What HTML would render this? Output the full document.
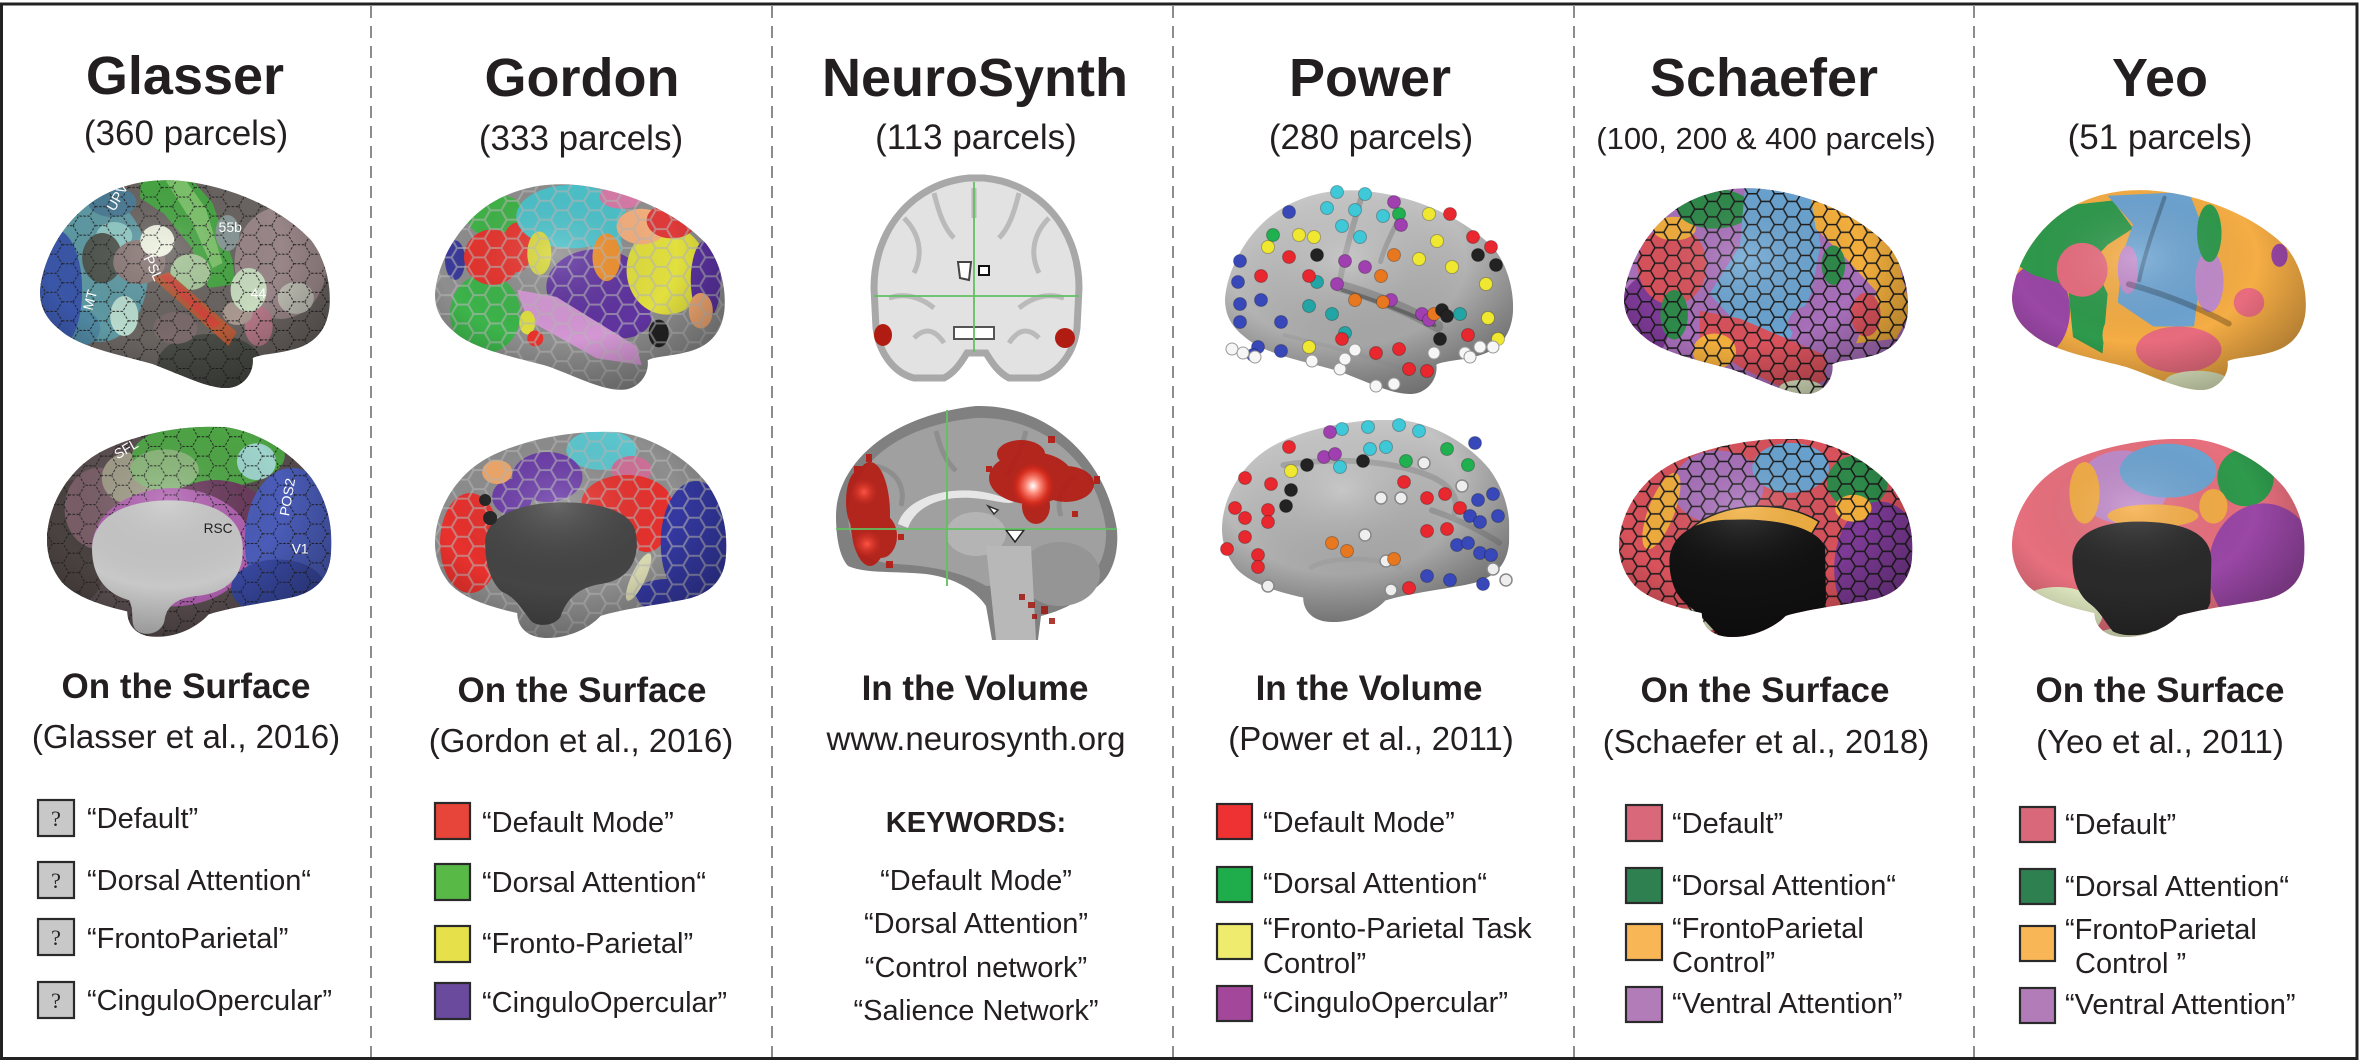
<!DOCTYPE html>
<html><head><meta charset="utf-8">
<style>
html,body{margin:0;padding:0;background:#fff;}
svg{display:block;}
text{font-family:"Liberation Sans",Arial,sans-serif;fill:#231f20;}
.t{font-size:54px;font-weight:bold;text-anchor:middle;}
.s{font-size:35px;text-anchor:middle;}
.h{font-size:35px;font-weight:bold;text-anchor:middle;}
.c{font-size:33px;text-anchor:middle;}
.l{font-size:29px;}
.lc{font-size:29px;text-anchor:middle;}
.q{font-family:"Liberation Serif",serif;font-size:22px;text-anchor:middle;}
.w{fill:#fff;font-size:14px;}
</style></head>
<body>
<svg width="2364" height="1064" viewBox="0 0 2364 1064" xmlns="http://www.w3.org/2000/svg">
<defs>
  <path id="LAT" d="M0,113 C2,85 20,45 55,22 C80,6 110,0 141,3 C190,8 240,30 270,62 C288,85 292,120 287,138 C282,158 268,168 250,172 C235,176 220,176 212,180 C214,195 202,210 186,210 C165,210 140,196 112,186 C85,178 40,170 20,152 C5,140 0,128 0,113 Z"/>
  <path id="MED" d="M0,111 C0,80 20,40 60,22 C95,6 140,-2 181,0 C215,4 250,25 270,50 C288,75 292,100 290,125 C288,148 275,160 255,166 C230,172 190,176 165,184 C155,195 135,206 112,206 C92,206 82,195 82,181 C60,176 30,168 15,152 C5,140 0,126 0,111 Z"/>
  <path id="WALL" d="M50,111 C50,90 70,75 112,71 C150,68 195,75 200,100 C205,125 195,148 165,152 C140,156 130,170 125,185 C118,195 100,195 95,188 C85,175 80,165 67,160 C55,150 50,130 50,111 Z"/>
  <clipPath id="clipLat"><use href="#LAT"/></clipPath>
  <clipPath id="clipMed"><use href="#MED"/></clipPath>
  <pattern id="hexS" width="27" height="15.59" patternUnits="userSpaceOnUse">
    <path d="M0,7.79 L4.5,0 L13.5,0 L18,7.79 L13.5,15.59 L4.5,15.59 Z M18,7.79 L27,7.79" fill="none" stroke="#1a1a1a" stroke-width="1.5"/>
  </pattern>
  <pattern id="hexG" width="33" height="19.05" patternUnits="userSpaceOnUse">
    <path d="M0,9.53 L5.5,0 L16.5,0 L22,9.53 L16.5,19.05 L5.5,19.05 Z M22,9.53 L33,9.53" fill="none" stroke="#1e1e1e" stroke-width="0.9" stroke-dasharray="2.5 1.5"/>
  </pattern>
  <pattern id="hexW" width="33" height="19.05" patternUnits="userSpaceOnUse">
    <path d="M0,9.53 L5.5,0 L16.5,0 L22,9.53 L16.5,19.05 L5.5,19.05 Z M22,9.53 L33,9.53" fill="none" stroke="#b8b8b8" stroke-width="2" opacity="0.6"/>
  </pattern>
  <radialGradient id="shade" cx="0.42" cy="0.35" r="0.75">
    <stop offset="0" stop-color="#fff" stop-opacity="0.18"/>
    <stop offset="0.55" stop-color="#000" stop-opacity="0"/>
    <stop offset="1" stop-color="#000" stop-opacity="0.35"/>
  </radialGradient>
  <linearGradient id="pgray" x1="0" y1="0" x2="0.3" y2="1">
    <stop offset="0" stop-color="#d2d2d2"/>
    <stop offset="1" stop-color="#9c9c9c"/>
  </linearGradient>
  <radialGradient id="hot" cx="0.5" cy="0.5" r="0.5">
    <stop offset="0" stop-color="#ffffff"/>
    <stop offset="0.3" stop-color="#ff9080"/>
    <stop offset="0.7" stop-color="#e0301f" stop-opacity="0.8"/>
    <stop offset="1" stop-color="#c02015" stop-opacity="0"/>
  </radialGradient>
  <radialGradient id="hot2" cx="0.5" cy="0.5" r="0.5">
    <stop offset="0" stop-color="#ff5545"/>
    <stop offset="1" stop-color="#d02a1c" stop-opacity="0"/>
  </radialGradient>
</defs>

<!-- frame -->
<rect x="1.5" y="4" width="2355.5" height="1054.5" fill="#fff" stroke="#222" stroke-width="3"/>
<g stroke="#808080" stroke-width="1.8" stroke-dasharray="12 8">
  <line x1="371" y1="6" x2="371" y2="1057"/>
  <line x1="772" y1="6" x2="772" y2="1057"/>
  <line x1="1173" y1="6" x2="1173" y2="1057"/>
  <line x1="1574" y1="6" x2="1574" y2="1057"/>
  <line x1="1974" y1="6" x2="1974" y2="1057"/>
</g>

<!-- Titles -->
<text class="t" x="185" y="94">Glasser</text>
<text class="t" x="582" y="96">Gordon</text>
<text class="t" x="975" y="96">NeuroSynth</text>
<text class="t" x="1370" y="96">Power</text>
<text class="t" x="1764" y="96">Schaefer</text>
<text class="t" x="2160" y="96">Yeo</text>

<text class="s" x="186" y="145">(360 parcels)</text>
<text class="s" x="581" y="150">(333 parcels)</text>
<text class="s" x="976" y="149">(113 parcels)</text>
<text class="s" x="1371" y="149">(280 parcels)</text>
<text class="s" x="1766" y="149" style="font-size:31px">(100, 200 &amp; 400 parcels)</text>
<text class="s" x="2160" y="149">(51 parcels)</text>

<!-- ========== GLASSER lateral ========== -->
<g transform="translate(40,178) scale(1.003,1)">
  <g clip-path="url(#clipLat)">
    <rect width="290" height="210" fill="#6a6461"/>
    <ellipse cx="60" cy="92" rx="48" ry="72" fill="#5e9aa4"/>
    <ellipse cx="72" cy="24" rx="24" ry="15" fill="#4b7c96"/>
    <ellipse cx="74" cy="58" rx="18" ry="14" fill="#8fcac6"/>
    <ellipse cx="84" cy="138" rx="14" ry="20" fill="#b9dccf"/>
    <ellipse cx="40" cy="150" rx="20" ry="18" fill="#4f86a0"/>
    <ellipse cx="16" cy="112" rx="26" ry="60" fill="#3a56a8"/>
    <ellipse cx="62" cy="80" rx="20" ry="25" fill="#4e544e"/>
    <ellipse cx="99" cy="84" rx="26" ry="22" fill="#8a7876"/>
    <ellipse cx="240" cy="85" rx="46" ry="56" fill="#998688"/>
    <ellipse cx="255" cy="120" rx="18" ry="16" fill="#bdbcb2"/>
    <ellipse cx="218" cy="148" rx="14" ry="20" fill="#b57888"/>
    <ellipse cx="197" cy="135" rx="15" ry="12" fill="#a89890"/>
    <ellipse cx="169" cy="186" rx="52" ry="30" fill="#4a4c46"/>
    <ellipse cx="135" cy="150" rx="22" ry="16" fill="#7a6a6c"/>
    <polygon points="100,0 150,0 172,25 192,82 195,106 168,110 150,68 124,36 100,20" fill="#46a642"/>
    <polygon points="125,2 145,2 165,30 182,85 172,90 152,45" fill="#7cc46a"/>
    <ellipse cx="117" cy="63" rx="17" ry="16" fill="#eef2e0"/>
    <ellipse cx="150" cy="94" rx="20" ry="18" fill="#a8c89a"/>
    <ellipse cx="208" cy="112" rx="18" ry="22" fill="#c8dcc0"/>
    <ellipse cx="187" cy="55" rx="12" ry="18" fill="#8a9898"/>
    <polygon points="112,100 128,94 196,154 188,168" fill="#b55a38"/>
    <polygon points="120,98 128,96 180,146 172,150" fill="#d0463a"/>
    <rect width="290" height="210" fill="url(#hexG)"/>
    <rect width="290" height="210" fill="url(#shade)"/>
  </g>
  <text class="w" transform="translate(74,34) rotate(-60)">UPV</text>
  <text class="w" x="178" y="54">55b</text>
  <text class="w" transform="translate(103,80) rotate(65)">PSL</text>
  <text class="w" x="210" y="120">44</text>
  <text class="w" transform="translate(52,133) rotate(-75)">MT</text>
</g>

<!-- ========== GLASSER medial ========== -->
<g transform="translate(47,427) scale(0.979,1.019)">
  <g clip-path="url(#clipMed)">
    <rect width="290" height="206" fill="#5a4e50"/>
    <ellipse cx="28" cy="114" rx="36" ry="62" fill="#4a4240"/>
    <ellipse cx="53" cy="80" rx="35" ry="40" fill="#7a5e68"/>
    <ellipse cx="84" cy="50" rx="28" ry="25" fill="#a09c88"/>
    <ellipse cx="165" cy="28" rx="78" ry="32" fill="#4ea645"/>
    <ellipse cx="120" cy="42" rx="35" ry="20" fill="#8ab87a"/>
    <ellipse cx="214" cy="34" rx="20" ry="18" fill="#9ed4cc"/>
    <ellipse cx="172" cy="82" rx="50" ry="30" fill="#6a3a5c"/>
    <ellipse cx="128" cy="118" rx="82" ry="58" fill="#b060b0"/>
    <ellipse cx="250" cy="112" rx="48" ry="72" fill="#4a5cb8"/>
    <ellipse cx="236" cy="158" rx="48" ry="28" fill="#3848a0"/>
    <rect width="290" height="206" fill="url(#hexG)"/>
    <path d="M46,120 C46,88 80,72 125,72 C170,72 200,88 200,120 C200,148 184,163 152,166 C132,168 122,176 120,190 C117,203 100,206 92,200 C84,194 90,182 84,170 C60,164 46,146 46,120 Z" fill="#c8c8c8"/>
    <rect width="290" height="206" fill="url(#shade)"/>
  </g>
  <text x="160" y="104" style="font-size:14px">RSC</text>
  <text class="w" x="250" y="124">V1</text>
  <text class="w" transform="translate(247,88) rotate(-80)">POS2</text>
  <text class="w" transform="translate(72,32) rotate(-30)">SFL</text>
</g>

<!-- ========== GORDON lateral ========== -->
<g transform="translate(435,182) scale(1.003,0.99)">
  <g clip-path="url(#clipLat)">
    <rect width="290" height="210" fill="#8e8e8e"/>
    <ellipse cx="20" cy="79" rx="10" ry="20" fill="#3a3a9a"/>
    <ellipse cx="62" cy="35" rx="30" ry="22" fill="#3fb447"/>
    <ellipse cx="50" cy="133" rx="35" ry="40" fill="#3cb44a"/>
    <ellipse cx="57" cy="76" rx="28" ry="28" fill="#e8322c"/>
    <ellipse cx="82" cy="66" rx="15" ry="25" fill="#e8322c"/>
    <ellipse cx="136" cy="35" rx="55" ry="32" fill="#4bc3cb"/>
    <ellipse cx="171" cy="62" rx="15" ry="20" fill="#4bc3cb"/>
    <ellipse cx="186" cy="15" rx="22" ry="12" fill="#d87aa8"/>
    <ellipse cx="161" cy="106" rx="50" ry="38" fill="#6034a0"/>
    <ellipse cx="186" cy="136" rx="30" ry="22" fill="#6034a0"/>
    <ellipse cx="104" cy="72" rx="12" ry="22" fill="#d8d838"/>
    <ellipse cx="171" cy="76" rx="14" ry="24" fill="#f0902c"/>
    <polygon points="82,109 121,116 201,166 206,185 161,178 92,139" fill="#d497d4"/>
    <ellipse cx="231" cy="89" rx="40" ry="45" fill="#e2e03e"/>
    <ellipse cx="206" cy="45" rx="25" ry="18" fill="#f5b07e"/>
    <ellipse cx="236" cy="39" rx="25" ry="18" fill="#e03a3a"/>
    <ellipse cx="270" cy="99" rx="15" ry="40" fill="#5a32a0"/>
    <ellipse cx="265" cy="130" rx="12" ry="18" fill="#f2a870"/>
    <ellipse cx="223" cy="153" rx="10" ry="14" fill="#222"/>
    <ellipse cx="92" cy="142" rx="8" ry="12" fill="#e0e040"/>
    <ellipse cx="100" cy="158" rx="8" ry="8" fill="#e8322c"/>
    <rect width="290" height="210" fill="url(#hexW)"/>
    <rect width="290" height="210" fill="url(#shade)"/>
  </g>
</g>

<!-- ========== GORDON medial ========== -->
<g transform="translate(435,432) scale(1.003,1)">
  <g clip-path="url(#clipMed)">
    <rect width="290" height="206" fill="#8e8e8e"/>
    <ellipse cx="166" cy="18" rx="35" ry="20" fill="#5cc8d0"/>
    <ellipse cx="196" cy="38" rx="20" ry="14" fill="#d07098"/>
    <ellipse cx="112" cy="45" rx="35" ry="25" fill="#6a3aa8"/>
    <ellipse cx="77" cy="65" rx="20" ry="18" fill="#6a3aa8"/>
    <ellipse cx="62" cy="40" rx="15" ry="12" fill="#f2a868"/>
    <ellipse cx="35" cy="111" rx="30" ry="50" fill="#e8312d"/>
    <ellipse cx="191" cy="71" rx="45" ry="28" fill="#e8312d"/>
    <ellipse cx="211" cy="95" rx="20" ry="25" fill="#e8312d"/>
    <ellipse cx="260" cy="111" rx="35" ry="62" fill="#3438a0"/>
    <ellipse cx="231" cy="163" rx="32" ry="16" fill="#3438a0"/>
    <ellipse cx="203" cy="145" rx="7" ry="26" fill="#d8d8b0" transform="rotate(25 203 145)"/>
    <rect width="290" height="206" fill="url(#hexW)"/>
    <use href="#WALL" fill="#454545"/>
    <circle cx="50" cy="68" r="6" fill="#222"/>
    <circle cx="55" cy="86" r="7" fill="#222"/>
    <rect width="290" height="206" fill="url(#shade)"/>
  </g>
</g>

<!-- ========== NEUROSYNTH coronal ========== -->
<g transform="translate(874,178)">
  <path d="M0,110 C0,50 40,5 95,0 L110,0 C165,5 205,50 205,110 L203,150 C200,175 185,195 165,200 L135,200 C125,195 118,185 112,175 L93,175 C87,185 80,195 70,200 L40,200 C20,195 5,175 2,150 Z" fill="#e2e2e2" stroke="#a8a8a8" stroke-width="7"/>
  <g fill="none" stroke="#b4b4b4" stroke-width="5" opacity="0.85">
    <path d="M30,40 C45,55 50,75 40,95"/>
    <path d="M60,15 C65,35 70,50 80,60"/>
    <path d="M175,40 C160,55 155,75 165,95"/>
    <path d="M145,15 C140,35 135,50 125,60"/>
    <path d="M15,120 C30,115 45,118 60,130"/>
    <path d="M190,120 C175,115 160,118 145,130"/>
    <path d="M40,160 C50,150 60,150 70,165"/>
    <path d="M165,160 C155,150 145,150 135,165"/>
    <path d="M100,10 L100,40"/>
  </g>
  <path d="M84,84 L97,84 L95,102 L86,100 Z" fill="#fff" stroke="#444" stroke-width="2"/>
  <rect x="105" y="88" width="10" height="9" fill="#fff" stroke="#111" stroke-width="2"/>
  <path d="M80,149 L120,149 L120,161 L80,161 Z" fill="#fff" stroke="#555" stroke-width="2"/>
  <line x1="100" y1="4" x2="100" y2="174" stroke="#62c062" stroke-width="1.8"/>
  <line x1="0" y1="118" x2="205" y2="118" stroke="#62c062" stroke-width="1.8"/>
  <ellipse cx="9" cy="157" rx="9" ry="11" fill="#b01c12"/>
  <ellipse cx="191" cy="160" rx="10" ry="10" fill="#b01c12"/>
</g>

<!-- ========== NEUROSYNTH sagittal ========== -->
<g transform="translate(836,406)">
  <path d="M0,110 C0,60 50,10 140,0 C210,-2 270,50 281,124 C283,150 275,170 262,180 C245,195 225,205 205,210 L202,234 L156,234 L150,200 C140,185 120,172 90,168 C60,165 30,168 12,160 C3,150 0,130 0,110 Z" fill="#808080"/>
  <path d="M12,110 C12,65 55,20 140,12 C205,10 262,55 270,124 C271,148 262,165 250,175 L150,180 C130,168 100,160 60,158 C30,156 14,145 12,110 Z" fill="#a0a0a0"/>
  <g fill="none" stroke="#8a8a8a" stroke-width="5" opacity="0.8">
    <path d="M40,60 C60,65 70,80 65,100"/>
    <path d="M100,25 C105,45 110,55 120,65"/>
    <path d="M190,25 C185,45 180,55 170,70"/>
    <path d="M240,70 C225,80 220,95 225,110"/>
  </g>
  <path d="M62,118 C70,88 130,72 178,96 C170,100 150,90 120,92 C95,94 78,105 72,122 Z" fill="#e6e6e6"/>
  <ellipse cx="140" cy="128" rx="30" ry="22" fill="#b4b4b4"/>
  <ellipse cx="224" cy="168" rx="40" ry="32" fill="#959595"/>
  <path d="M150,140 L195,140 L200,234 L160,234 Z" fill="#b8b8b8"/>
  <path d="M152,100 L162,104 L158,108 Z" fill="#fff" stroke="#333" stroke-width="1.5"/>
  <path d="M170,124 L188,124 L179,136 Z" fill="#fff" stroke="#222" stroke-width="1.5"/>
  <!-- left red cluster -->
  <g fill="#b41c14" opacity="0.92">
    <ellipse cx="34" cy="108" rx="20" ry="52"/>
    <ellipse cx="22" cy="95" rx="12" ry="30"/>
    <ellipse cx="45" cy="130" rx="16" ry="22"/>
    <rect x="30" y="48" width="6" height="8"/><rect x="18" y="60" width="8" height="8"/>
    <rect x="50" y="155" width="7" height="7"/><rect x="62" y="128" width="6" height="6"/>
  </g>
  <ellipse cx="28" cy="86" rx="14" ry="14" fill="url(#hot2)"/>
  <ellipse cx="31" cy="138" rx="15" ry="14" fill="url(#hot2)"/>
  <!-- center red cluster -->
  <g fill="#b41c14" opacity="0.92">
    <ellipse cx="195" cy="72" rx="42" ry="26"/>
    <ellipse cx="230" cy="78" rx="28" ry="18"/>
    <ellipse cx="185" cy="48" rx="24" ry="14"/>
    <ellipse cx="200" cy="100" rx="14" ry="18"/>
    <rect x="212" y="30" width="7" height="7"/><rect x="150" y="60" width="6" height="6"/>
    <rect x="258" y="70" width="6" height="8"/><rect x="236" y="105" width="6" height="6"/>
  </g>
  <ellipse cx="197" cy="80" rx="22" ry="24" fill="url(#hot)"/>
  <g fill="#a01810" opacity="0.85">
    <rect x="183" y="188" width="6" height="6"/><rect x="192" y="196" width="7" height="6"/>
    <rect x="205" y="200" width="7" height="8"/><rect x="213" y="212" width="6" height="6"/>
    <rect x="196" y="208" width="5" height="5"/>
  </g>
  <line x1="111" y1="4" x2="111" y2="180" stroke="#62c062" stroke-width="1.8"/>
  <line x1="0" y1="123" x2="281" y2="123" stroke="#62c062" stroke-width="1.8"/>
</g>

<!-- ========== POWER lateral ========== -->
<g transform="translate(1225,188) scale(0.997,0.981)">
  <g clip-path="url(#clipLat)">
    <rect width="290" height="210" fill="url(#pgray)"/>
    <g fill="none" stroke-linecap="round">
      <path d="M115,100 C150,110 185,125 213,141" stroke="#707070" stroke-width="12" opacity="0.5"/>
      <path d="M118,104 C150,114 185,128 210,140" stroke="#555" stroke-width="4" opacity="0.7"/>
      <path d="M136,12 C128,40 120,67 115,96" stroke="#8a8a8a" stroke-width="6" opacity="0.6"/>
      <path d="M177,25 C168,45 160,60 156,75" stroke="#8a8a8a" stroke-width="5" opacity="0.6"/>
      <path d="M60,150 C100,160 140,170 180,185" stroke="#999" stroke-width="4" opacity="0.5"/>
    </g>
    <rect width="290" height="210" fill="url(#shade)"/>
  </g>
</g>
<g stroke="#00000040" stroke-width="1">
  <g fill="#3ec8d8">
    <circle cx="1337" cy="192" r="6.5"/><circle cx="1365" cy="194" r="6.5"/><circle cx="1327" cy="208" r="6.5"/><circle cx="1355" cy="210" r="6.5"/><circle cx="1383" cy="216" r="6.5"/><circle cx="1342" cy="226" r="6.5"/><circle cx="1360" cy="237" r="6.5"/>
  </g>
  <g fill="#23a5a5">
    <circle cx="1317" cy="282" r="6.5"/><circle cx="1309" cy="306" r="6.5"/><circle cx="1332" cy="314" r="6.5"/><circle cx="1345" cy="333" r="6.5"/><circle cx="1460" cy="314" r="6.5"/>
  </g>
  <g fill="#3848b8">
    <circle cx="1289" cy="212" r="6.5"/><circle cx="1240" cy="261" r="6.5"/><circle cx="1238" cy="282" r="6.5"/><circle cx="1261" cy="300" r="6.5"/><circle cx="1240" cy="304" r="6.5"/><circle cx="1240" cy="322" r="6.5"/><circle cx="1281" cy="322" r="6.5"/><circle cx="1258" cy="347" r="6.5"/><circle cx="1281" cy="351" r="6.5"/><circle cx="1253" cy="355" r="6.5"/>
  </g>
  <g fill="#20b050">
    <circle cx="1273" cy="235" r="6.5"/><circle cx="1399" cy="214" r="6.5"/>
  </g>
  <g fill="#f0e830">
    <circle cx="1299" cy="235" r="6.5"/><circle cx="1314" cy="237" r="6.5"/><circle cx="1268" cy="247" r="6.5"/><circle cx="1429" cy="214" r="6.5"/><circle cx="1437" cy="241" r="6.5"/><circle cx="1419" cy="259" r="6.5"/><circle cx="1452" cy="267" r="6.5"/><circle cx="1486" cy="284" r="6.5"/><circle cx="1488" cy="318" r="6.5"/><circle cx="1498" cy="339" r="6.5"/><circle cx="1309" cy="347" r="6.5"/>
  </g>
  <g fill="#e8282e">
    <circle cx="1261" cy="276" r="6.5"/><circle cx="1289" cy="257" r="6.5"/><circle cx="1309" cy="276" r="6.5"/><circle cx="1450" cy="214" r="6.5"/><circle cx="1473" cy="237" r="6.5"/><circle cx="1491" cy="247" r="6.5"/><circle cx="1468" cy="335" r="6.5"/><circle cx="1342" cy="339" r="6.5"/><circle cx="1376" cy="353" r="6.5"/><circle cx="1399" cy="349" r="6.5"/><circle cx="1409" cy="369" r="6.5"/><circle cx="1427" cy="371" r="6.5"/>
  </g>
  <g fill="#a040b0">
    <circle cx="1394" cy="202" r="6.5"/><circle cx="1401" cy="225" r="6.5"/><circle cx="1345" cy="261" r="6.5"/><circle cx="1365" cy="267" r="6.5"/><circle cx="1337" cy="284" r="6.5"/><circle cx="1391" cy="300" r="6.5"/><circle cx="1422" cy="314" r="6.5"/><circle cx="1429" cy="320" r="6.5"/>
  </g>
  <g fill="#e87820">
    <circle cx="1394" cy="255" r="6.5"/><circle cx="1381" cy="276" r="6.5"/><circle cx="1355" cy="300" r="6.5"/><circle cx="1383" cy="302" r="6.5"/><circle cx="1434" cy="314" r="6.5"/>
  </g>
  <g fill="#222">
    <circle cx="1317" cy="255" r="6.5"/><circle cx="1478" cy="255" r="6.5"/><circle cx="1496" cy="265" r="6.5"/><circle cx="1442" cy="310" r="6.5"/><circle cx="1447" cy="316" r="6.5"/><circle cx="1440" cy="339" r="6.5"/>
  </g>
  <g fill="#f6f6f6" stroke="#999">
    <circle cx="1232" cy="349" r="6"/><circle cx="1243" cy="353" r="6"/><circle cx="1255" cy="357" r="6"/><circle cx="1312" cy="361" r="6"/><circle cx="1340" cy="369" r="6"/><circle cx="1345" cy="359" r="6"/><circle cx="1355" cy="350" r="6"/><circle cx="1394" cy="384" r="6"/><circle cx="1376" cy="386" r="6"/><circle cx="1434" cy="353" r="6"/><circle cx="1465" cy="353" r="6"/><circle cx="1480" cy="347" r="6"/><circle cx="1470" cy="357" r="6"/><circle cx="1493" cy="347" r="6"/>
  </g>
</g>

<!-- ========== POWER medial ========== -->
<g transform="translate(1222,420) scale(0.99,0.981)">
  <g clip-path="url(#clipMed)">
    <rect width="290" height="206" fill="url(#pgray)"/>
    <g fill="none" stroke-linecap="round">
      <path d="M62,46 C110,38 170,40 212,58 C230,66 240,80 235,95" stroke="#8a8a8a" stroke-width="6" opacity="0.5"/>
      <path d="M212,92 C235,100 260,112 280,125" stroke="#808080" stroke-width="6" opacity="0.5"/>
      <path d="M90,150 C110,140 150,138 180,150" stroke="#999" stroke-width="5" opacity="0.4"/>
    </g>
    <rect width="290" height="206" fill="url(#shade)"/>
  </g>
</g>
<g stroke="#00000040" stroke-width="1">
  <g fill="#3ec8d8">
    <circle cx="1342" cy="429" r="6.5"/><circle cx="1368" cy="427" r="6.5"/><circle cx="1399" cy="425" r="6.5"/><circle cx="1419" cy="431" r="6.5"/><circle cx="1370" cy="449" r="6.5"/><circle cx="1386" cy="447" r="6.5"/><circle cx="1340" cy="467" r="6.5"/>
  </g>
  <g fill="#a040b0">
    <circle cx="1324" cy="457" r="6.5"/><circle cx="1335" cy="454" r="6.5"/><circle cx="1330" cy="432" r="6.5"/>
  </g>
  <g fill="#222">
    <circle cx="1307" cy="465" r="6.5"/><circle cx="1291" cy="490" r="6.5"/><circle cx="1286" cy="506" r="6.5"/><circle cx="1363" cy="461" r="6.5"/>
  </g>
  <g fill="#f0e830"><circle cx="1291" cy="471" r="6.5"/></g>
  <g fill="#e8282e">
    <circle cx="1289" cy="447" r="6.5"/><circle cx="1245" cy="478" r="6.5"/><circle cx="1271" cy="484" r="6.5"/><circle cx="1235" cy="508" r="6.5"/><circle cx="1245" cy="518" r="6.5"/><circle cx="1268" cy="510" r="6.5"/><circle cx="1268" cy="522" r="6.5"/><circle cx="1227" cy="549" r="6.5"/><circle cx="1245" cy="537" r="6.5"/><circle cx="1258" cy="555" r="6.5"/><circle cx="1258" cy="567" r="6.5"/><circle cx="1404" cy="482" r="6.5"/><circle cx="1427" cy="498" r="6.5"/><circle cx="1445" cy="494" r="6.5"/><circle cx="1427" cy="531" r="6.5"/><circle cx="1447" cy="529" r="6.5"/><circle cx="1409" cy="588" r="6.5"/><circle cx="1460" cy="508" r="6.5"/>
  </g>
  <g fill="#20b050">
    <circle cx="1406" cy="461" r="6.5"/><circle cx="1447" cy="449" r="6.5"/><circle cx="1468" cy="465" r="6.5"/>
  </g>
  <g fill="#eeeeee" stroke="#888" stroke-width="1.5">
    <circle cx="1424" cy="463" r="6"/><circle cx="1381" cy="498" r="6"/><circle cx="1401" cy="498" r="6"/><circle cx="1462" cy="486" r="6"/><circle cx="1365" cy="535" r="6"/><circle cx="1386" cy="561" r="6"/><circle cx="1268" cy="586" r="6"/><circle cx="1391" cy="590" r="6"/><circle cx="1493" cy="569" r="6"/><circle cx="1506" cy="580" r="6"/>
  </g>
  <g fill="#3848b8">
    <circle cx="1478" cy="500" r="6.5"/><circle cx="1493" cy="494" r="6.5"/><circle cx="1470" cy="516" r="6.5"/><circle cx="1480" cy="522" r="6.5"/><circle cx="1498" cy="516" r="6.5"/><circle cx="1457" cy="545" r="6.5"/><circle cx="1468" cy="543" r="6.5"/><circle cx="1480" cy="553" r="6.5"/><circle cx="1491" cy="555" r="6.5"/><circle cx="1427" cy="576" r="6.5"/><circle cx="1450" cy="580" r="6.5"/><circle cx="1483" cy="584" r="6.5"/><circle cx="1475" cy="443" r="6.5"/>
  </g>
  <g fill="#e87820">
    <circle cx="1332" cy="543" r="6.5"/><circle cx="1347" cy="551" r="6.5"/><circle cx="1394" cy="559" r="6.5"/>
  </g>
</g>

<!-- ========== SCHAEFER lateral ========== -->
<g transform="translate(1624,186) scale(0.983,0.99)">
  <g clip-path="url(#clipLat)">
    <rect width="290" height="210" fill="#a86fba"/>
    <ellipse cx="21" cy="134" rx="26" ry="42" fill="#7d3a96"/>
    <ellipse cx="49" cy="80" rx="35" ry="40" fill="#d9525c"/>
    <ellipse cx="51" cy="43" rx="22" ry="12" fill="#f2ae3c"/>
    <ellipse cx="51" cy="130" rx="14" ry="25" fill="#2e8a4a"/>
    <ellipse cx="92" cy="23" rx="38" ry="20" fill="#2e8a4a"/>
    <polygon points="123,2 190,4 200,60 190,109 169,154 118,142 87,109 118,60" fill="#6aa4d2"/>
    <polygon points="190,10 236,25 277,68 292,126 277,154 236,159 257,107 221,68 195,43" fill="#f2ae3c"/>
    <ellipse cx="213" cy="80" rx="12" ry="20" fill="#2e8a4a"/>
    <ellipse cx="246" cy="130" rx="15" ry="22" fill="#d9525c"/>
    <polygon points="77,126 118,134 205,171 205,196 174,210 118,183 77,155" fill="#d9525c"/>
    <ellipse cx="92" cy="167" rx="22" ry="18" fill="#f2ae3c"/>
    <ellipse cx="195" cy="138" rx="28" ry="18" fill="#a86fba"/>
    <ellipse cx="180" cy="204" rx="22" ry="8" fill="#e4ecc8"/>
    <rect width="290" height="210" fill="url(#hexS)"/>
    <rect width="290" height="210" fill="url(#shade)"/>
  </g>
</g>

<!-- ========== SCHAEFER medial ========== -->
<g transform="translate(1619,439) scale(1.01,0.961)">
  <g clip-path="url(#clipMed)">
    <rect width="290" height="206" fill="#d9525c"/>
    <ellipse cx="98" cy="50" rx="45" ry="38" fill="#a86fba"/>
    <ellipse cx="170" cy="30" rx="38" ry="26" fill="#6aa4d2"/>
    <ellipse cx="236" cy="45" rx="30" ry="28" fill="#2e8a4a"/>
    <ellipse cx="258" cy="135" rx="45" ry="70" fill="#7d3a96"/>
    <ellipse cx="42" cy="75" rx="13" ry="42" fill="#f2ae3c" transform="rotate(20 42 75)"/>
    <ellipse cx="232" cy="72" rx="18" ry="14" fill="#f2ae3c"/>
    <ellipse cx="55" cy="190" rx="48" ry="14" fill="#e4ecc8"/>
    <rect width="290" height="206" fill="url(#hexS)"/>
    <path d="M66,100 C90,66 160,60 198,86 L190,100 C160,80 100,80 78,108 Z" fill="#f2ae3c" stroke="#1a1a1a" stroke-width="1.5"/>
    <path d="M50,128 C50,100 75,84 110,84 C150,82 195,90 204,112 L205,170 C200,190 185,200 165,200 C150,200 145,204 138,206 L100,206 C90,195 80,182 67,172 C55,162 50,145 50,128 Z" fill="#111"/>
    <rect width="290" height="206" fill="url(#shade)"/>
  </g>
</g>

<!-- ========== YEO lateral ========== -->
<g transform="translate(2012,188) scale(1.017,0.962)">
  <g clip-path="url(#clipLat)">
    <rect width="290" height="210" fill="#f5ad45"/>
    <ellipse cx="25" cy="127" rx="32" ry="48" fill="#9a47a6"/>
    <polygon points="15,50 35,30 64,17 99,13 119,42 94,59 79,76 94,110 89,172 60,155 55,102 20,90 5,80" fill="#2e9a4c"/>
    <ellipse cx="69" cy="85" rx="25" ry="28" fill="#e86c7e"/>
    <polygon points="94,8 174,4 188,42 184,102 179,144 139,144 104,119 109,68 119,38" fill="#6ea5d3"/>
    <ellipse cx="194" cy="97" rx="14" ry="32" fill="#c18bcb"/>
    <ellipse cx="114" cy="85" rx="10" ry="25" fill="#c18bcb"/>
    <ellipse cx="194" cy="47" rx="12" ry="30" fill="#2e9a4c"/>
    <ellipse cx="233" cy="119" rx="15" ry="15" fill="#e86c7e"/>
    <ellipse cx="104" cy="153" rx="15" ry="22" fill="#f5ad45"/>
    <ellipse cx="164" cy="168" rx="42" ry="24" fill="#e86c7e"/>
    <ellipse cx="182" cy="202" rx="32" ry="12" fill="#e6efc6"/>
    <ellipse cx="263" cy="70" rx="8" ry="12" fill="#9a47a6"/>
    <g fill="none" stroke="#000" stroke-opacity="0.25" stroke-linecap="round">
      <path d="M115,100 C150,110 185,125 213,141" stroke-width="6"/>
      <path d="M150,10 C140,40 130,70 125,96" stroke-width="4"/>
    </g>
    <rect width="290" height="210" fill="url(#shade)"/>
  </g>
</g>

<!-- ========== YEO medial ========== -->
<g transform="translate(2012,439) scale(1.007,0.961)">
  <g clip-path="url(#clipMed)">
    <rect width="290" height="206" fill="#e8707e"/>
    <ellipse cx="110" cy="50" rx="45" ry="38" fill="#c18bcb"/>
    <ellipse cx="155" cy="33" rx="48" ry="28" fill="#6ea5d3"/>
    <ellipse cx="232" cy="40" rx="28" ry="30" fill="#2e9a4c"/>
    <ellipse cx="72" cy="56" rx="15" ry="32" fill="#f5ad45"/>
    <ellipse cx="140" cy="80" rx="45" ry="12" fill="#f5ad45"/>
    <ellipse cx="200" cy="70" rx="14" ry="18" fill="#f5ad45"/>
    <ellipse cx="250" cy="135" rx="55" ry="68" fill="#9a47a6"/>
    <ellipse cx="45" cy="182" rx="45" ry="28" fill="#e6efc6"/>
    <ellipse cx="130" cy="204" rx="45" ry="9" fill="#e6efc6"/>
    <path d="M60,125 C60,100 85,86 125,86 C165,86 197,95 198,125 L197,170 C190,190 175,198 160,198 L140,200 C130,205 110,206 100,200 C92,190 88,180 78,172 C65,162 60,145 60,125 Z" fill="#2a2a2a"/>
    <rect width="290" height="206" fill="url(#shade)"/>
  </g>
</g>

<!-- ========== Lower headings ========== -->
<text class="h" x="186" y="698">On the Surface</text>
<text class="h" x="582" y="702">On the Surface</text>
<text class="h" x="975" y="700">In the Volume</text>
<text class="h" x="1369" y="700">In the Volume</text>
<text class="h" x="1765" y="702">On the Surface</text>
<text class="h" x="2160" y="702">On the Surface</text>

<text class="c" x="186" y="748">(Glasser et al., 2016)</text>
<text class="c" x="581" y="752">(Gordon et al., 2016)</text>
<text class="c" x="976" y="750">www.neurosynth.org</text>
<text class="c" x="1371" y="750">(Power et al., 2011)</text>
<text class="c" x="1766" y="753">(Schaefer et al., 2018)</text>
<text class="c" x="2160" y="753">(Yeo et al., 2011)</text>

<!-- Glasser legend -->
<g stroke="#2a2a2a" stroke-width="2.2" fill="#c8c8c8">
  <rect x="38" y="800" width="36" height="36"/>
  <rect x="38" y="862" width="36" height="36"/>
  <rect x="38" y="919" width="36" height="36"/>
  <rect x="38" y="982" width="36" height="36"/>
</g>
<text class="q" x="56" y="826">?</text>
<text class="q" x="56" y="888">?</text>
<text class="q" x="56" y="945">?</text>
<text class="q" x="56" y="1008">?</text>
<text class="l" x="87" y="828">“Default”</text>
<text class="l" x="87" y="890">“Dorsal Attention“</text>
<text class="l" x="87" y="948">“FrontoParietal”</text>
<text class="l" x="87" y="1010">“CinguloOpercular”</text>

<!-- Gordon legend -->
<g stroke="#2a2a2a" stroke-width="2.2">
  <rect x="435" y="803" width="35" height="36" fill="#e8453a"/>
  <rect x="435" y="864" width="35" height="36" fill="#58b947"/>
  <rect x="435" y="926" width="35" height="36" fill="#e6e04a"/>
  <rect x="435" y="983" width="35" height="36" fill="#6a4a9c"/>
</g>
<text class="l" x="482" y="832">“Default Mode”</text>
<text class="l" x="482" y="892">“Dorsal Attention“</text>
<text class="l" x="482" y="953">“Fronto-Parietal”</text>
<text class="l" x="482" y="1012">“CinguloOpercular”</text>

<!-- NeuroSynth keywords -->
<text class="lc" x="976" y="832" style="font-weight:bold">KEYWORDS:</text>
<text class="lc" x="976" y="890">“Default Mode”</text>
<text class="lc" x="976" y="933">“Dorsal Attention”</text>
<text class="lc" x="976" y="977">“Control network”</text>
<text class="lc" x="976" y="1020">“Salience Network”</text>

<!-- Power legend -->
<g stroke="#2a2a2a" stroke-width="2.2">
  <rect x="1217" y="804" width="35" height="35" fill="#ee3234"/>
  <rect x="1217" y="867" width="35" height="35" fill="#1fad4b"/>
  <rect x="1217" y="924" width="35" height="35" fill="#eeeb6e"/>
  <rect x="1217" y="986" width="35" height="35" fill="#a3479a"/>
</g>
<text class="l" x="1263" y="832">“Default Mode”</text>
<text class="l" x="1263" y="893">“Dorsal Attention“</text>
<text class="l" x="1263" y="938">“Fronto-Parietal Task</text>
<text class="l" x="1263" y="973">Control”</text>
<text class="l" x="1263" y="1012">“CinguloOpercular”</text>

<!-- Schaefer legend -->
<g stroke="#2a2a2a" stroke-width="2.2">
  <rect x="1626" y="805" width="36" height="36" fill="#d9687a"/>
  <rect x="1626" y="868" width="36" height="35" fill="#2f8050"/>
  <rect x="1626" y="924" width="36" height="36" fill="#f9b656"/>
  <rect x="1626" y="987" width="36" height="35" fill="#b27cb8"/>
</g>
<text class="l" x="1672" y="833">“Default”</text>
<text class="l" x="1672" y="895">“Dorsal Attention“</text>
<text class="l" x="1672" y="938">“FrontoParietal</text>
<text class="l" x="1672" y="972">Control”</text>
<text class="l" x="1672" y="1013">“Ventral Attention”</text>

<!-- Yeo legend -->
<g stroke="#2a2a2a" stroke-width="2.2">
  <rect x="2020" y="807" width="35" height="35" fill="#d9687a"/>
  <rect x="2020" y="869" width="35" height="35" fill="#2f8050"/>
  <rect x="2020" y="926" width="35" height="35" fill="#f9b656"/>
  <rect x="2020" y="988" width="35" height="35" fill="#b27cb8"/>
</g>
<text class="l" x="2065" y="834">“Default”</text>
<text class="l" x="2065" y="896">“Dorsal Attention“</text>
<text class="l" x="2065" y="939">“FrontoParietal</text>
<text class="l" x="2075" y="973">Control ”</text>
<text class="l" x="2065" y="1014">“Ventral Attention”</text>

</svg>
</body></html>
